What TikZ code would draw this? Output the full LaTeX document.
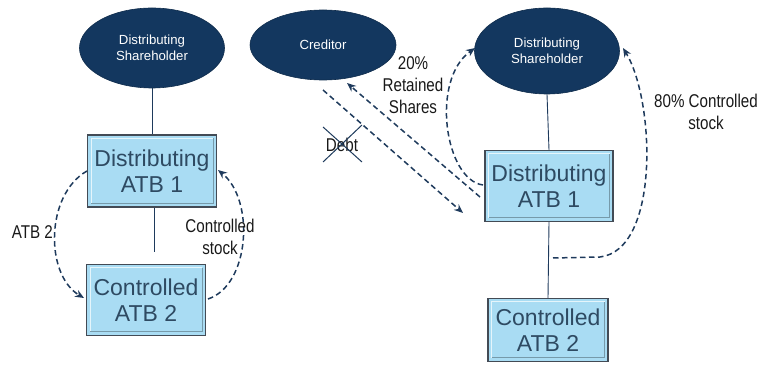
\documentclass[tikz,border=0pt]{standalone}
\usepackage{fontspec}
\setmainfont{Liberation Sans}
\newfontfamily\narrowfont[FakeStretch=0.82]{Liberation Sans}
\usetikzlibrary{arrows.meta,shapes.geometric}
\definecolor{navy}{HTML}{13375F}
\definecolor{boxblue}{HTML}{A9DCF3}
\definecolor{boxedge}{HTML}{434B55}
\definecolor{boxtext}{HTML}{2E4A62}
\definecolor{linkc}{HTML}{1E3A5C}
\tikzset{
  party/.style={ellipse, fill=navy, draw=navy!80!black, line width=0.6pt, text=white,
    font=\fontsize{13.2}{15.5}\selectfont, align=center, inner sep=0pt},
  atb/.style={rectangle, fill=boxblue, draw=boxedge, line width=1.2pt, text=boxtext,
    font=\fontsize{23}{26}\selectfont, align=center, inner sep=0pt,
    path picture={
      \draw[white!70!boxblue, line width=1pt]
        ([xshift=3.5pt,yshift=3.5pt]path picture bounding box.south west) |-
        ([xshift=-3.5pt,yshift=-3.5pt]path picture bounding box.north east);
      \draw[boxblue!70!black, line width=1pt]
        ([xshift=3.5pt,yshift=3.5pt]path picture bounding box.south west) -|
        ([xshift=-3.5pt,yshift=-3.5pt]path picture bounding box.north east);
    }},
  solidlink/.style={draw=linkc, line width=0.9pt},
  flow/.style={draw=linkc, line width=1.5pt, dash pattern=on 5.5pt off 3.5pt,
    -{Stealth[length=9pt,width=7.5pt]}},
  lbl/.style={font=\narrowfont\fontsize{18.5}{22}\selectfont, text=black!90, align=center, inner sep=0pt}
}
\begin{document}
\begin{tikzpicture}[x=1pt,y=-1pt]
\useasboundingbox (0,0) rectangle (758,371);
% left group
\node[party, minimum width=145pt, minimum height=80pt] (LS) at (152,48) {Distributing\\Shareholder};
\node[atb, minimum width=129pt, minimum height=72pt] (LB1) at (152,171) {Distributing\\ATB 1};
\node[atb, minimum width=119pt, minimum height=71pt] (LB2) at (146,300) {Controlled\\ATB 2};
\coordinate (LEnd) at (154,252);
\draw[solidlink] (LS.south) -- (LB1.north);
\draw[solidlink] (LB1.south -| LEnd) -- (LEnd);
\coordinate (LAs) at (87,171);
\coordinate (LAe) at (84,298);
\draw[flow] (LAs) .. controls (45,195) and (45,275) .. (LAe);
\coordinate (LBs) at (208,299);
\coordinate (LBe) at (218,170);
\draw[flow] (LBs) .. controls (250,285) and (255,200) .. (LBe);
\node[lbl, anchor=east] (atb2) at (53,232) {ATB 2};
\node[lbl] (cst) at (220,237) {Controlled\\stock};
% creditor
\node[party, minimum width=146pt, minimum height=70pt] (Cred) at (323,45) {Creditor};
% right group
\node[party, minimum width=145pt, minimum height=86pt] (RS) at (547,51) {Distributing\\Shareholder};
\node[atb, minimum width=128pt, minimum height=71pt] (RB1) at (549,186) {Distributing\\ATB 1};
\node[atb, minimum width=120pt, minimum height=63pt] (RB2) at (548,330) {Controlled\\ATB 2};
\draw[solidlink] (RS.south) -- (RB1.north);
\draw[solidlink] (RB1.south) -- (RB2.north);
% creditor flows
\coordinate (Ds) at (323,90);
\coordinate (De) at (463,213);
\draw[flow] (Ds) -- (De);
\coordinate (Rs) at (480,197);
\coordinate (Re) at (347,83);
\draw[flow] (Rs) -- (Re);
\node[lbl] (debt) at (342,145) {Debt};
\coordinate (X1) at (323,127);
\coordinate (X2) at (362,162);
\coordinate (X3) at (323,162);
\coordinate (X4) at (362,125);
\draw[solidlink, line width=1pt] (X1) -- (X2);
\draw[solidlink, line width=1pt] (X3) -- (X4);
\node[lbl] (ret) at (413,85) {20\%\\Retained\\Shares};
% right dashed arcs
\coordinate (Ls) at (483,185);
\coordinate (Le) at (475,48);
\draw[flow] (Ls) .. controls (445,180) and (430,80) .. (Le);
\coordinate (Ks) at (553,258);
\coordinate (Km) at (600,257);
\coordinate (Ke) at (623,48);
\draw[flow] (Ks) -- (Km) .. controls (660,250) and (655,100) .. (Ke);
\node[lbl] (ctl) at (706,112) {80\% Controlled\\stock};
\end{tikzpicture}
\end{document}
